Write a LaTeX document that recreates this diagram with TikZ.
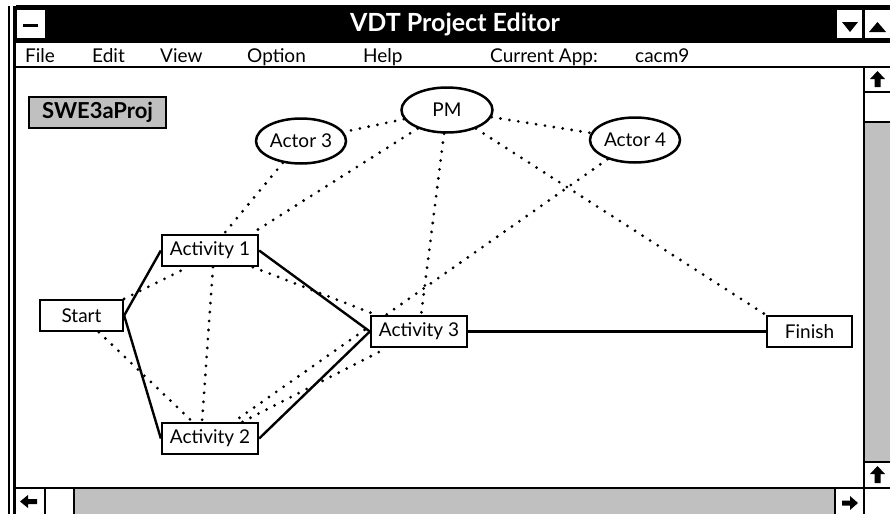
\documentclass[tikz,border=0pt]{standalone}
\usepackage{fontspec}
\setmainfont{Lato}
\usetikzlibrary{shapes.geometric}
\pgfdeclarelayer{links}
\pgfsetlayers{links,main}
\definecolor{panelgray}{RGB}{192,192,192}
\begin{document}
\begin{tikzpicture}[x=1pt,y=-1pt,
  frame/.style={line width=2.8pt},
  actbox/.style={rectangle, draw=black, line width=2.3pt, fill=white, inner sep=0pt,
    minimum height=31pt, font=\fontsize{19}{19}\selectfont},
  actor/.style={ellipse, draw=black, line width=2.5pt, fill=white, inner sep=0pt,
    minimum width=90pt, minimum height=45pt, font=\fontsize{19}{19}\selectfont},
  menuitem/.style={anchor=base west, inner sep=0pt, font=\fontsize{19}{19}\selectfont},
  flow/.style={line width=2.4pt},
  dotlink/.style={line width=3.1pt, line cap=round, dash pattern=on 0pt off 9pt},
  arrowglyph/.style={fill=black, draw=none}]
\useasboundingbox (0,0) rectangle (890,514);

% ---- window frame ----
\fill[black] (16,5) rectangle (890,43);
\draw[line width=2.4pt] (9,6) -- (9,514);
\draw[line width=3pt] (14.7,6) -- (14.7,514);
% system box and title
\fill[white] (17,10) rectangle (45,38);
\draw[line width=3pt] (23,25) -- (38,25);
\node[text=white, font=\bfseries\fontsize{25}{25}\selectfont] (title) at (455,24) {VDT Project Editor};
% window buttons
\fill[white] (837,10) rectangle (862,38);
\fill[white] (865,10) rectangle (890,38);
\fill[black] (842,22) -- (858,22) -- (850,32) -- cycle;
\fill[black] (869,32) -- (886,32) -- (877.5,22) -- cycle;

% ---- menu bar ----
\draw[frame] (16,67) -- (890,67);
\node[menuitem] (mFile) at (25,62) {File};
\node[menuitem] (mEdit) at (92,62) {Edit};
\node[menuitem] (mView) at (160,62) {View};
\node[menuitem] (mOption) at (247,62) {Option};
\node[menuitem] (mHelp) at (363,62) {Help};
\node[menuitem] (mApp) at (490,62) {Current App:};
\node[menuitem] (mAppName) at (635,62) {cacm9};

% ---- vertical scroll bar ----
\fill[panelgray] (865,122) rectangle (890,462);
\draw[frame] (864,67) -- (864,514);
\draw[frame] (864,92) -- (890,92);
\draw[frame] (864,122) -- (890,122);
\draw[frame] (864,462) -- (890,462);
\fill[arrowglyph] (877.5,71) -- (885,79) -- (880.5,79) -- (880.5,87) -- (874.5,87) -- (874.5,79) -- (870,79) -- cycle;
\fill[arrowglyph] (877.5,466) -- (885,474) -- (880.5,474) -- (880.5,483) -- (874.5,483) -- (874.5,474) -- (870,474) -- cycle;

% ---- horizontal scroll bar ----
\fill[panelgray] (74,489) rectangle (835,514);
\draw[frame] (16,488) -- (890,488);
\draw[frame] (45,488) -- (45,514);
\draw[frame] (74,488) -- (74,514);
\draw[frame] (835,488) -- (835,514);
\fill[arrowglyph] (20,501.5) -- (28,495) -- (28,499) -- (37,499) -- (37,504) -- (28,504) -- (28,508) -- cycle;
\fill[arrowglyph] (858,503) -- (850,496) -- (850,500.5) -- (842,500.5) -- (842,505.5) -- (850,505.5) -- (850,510) -- cycle;

% ---- project graph ----
\node[rectangle, draw=black, line width=2.8pt, fill=panelgray, minimum width=137pt,
  minimum height=31pt, inner sep=0pt, font=\bfseries\fontsize{22}{22}\selectfont]
  (proj) at (97.5,112.5) {SWE3aProj};

\node[actor, minimum width=91pt] (pm) at (447,110) {PM};
\node[actor] (a3) at (301,141) {Actor 3};
\node[actor] (a4) at (635,140) {Actor 4};

\node[actbox, minimum width=96pt] (act1) at (210,250.5) {Activity 1};
\node[actbox, minimum width=83pt] (start) at (81.5,315.5) {Start};
\node[actbox, minimum width=96pt] (act3) at (419,331.5) {Activity 3};
\node[actbox, minimum width=96pt] (act2) at (210,438.5) {Activity 2};
\node[actbox, minimum width=85pt] (finish) at (809.5,331.5) {Finish};

\begin{pgfonlayer}{links}
  % responsibility and communication links
  \draw[dotlink] (pm) -- (a3);
  \draw[dotlink] (pm) -- (a4);
  \draw[dotlink] (pm) -- ([xshift=-8pt]act1.north east);
  \draw[dotlink] (pm) -- (act3);
  \draw[dotlink] (pm) -- (finish.north west);
  \draw[dotlink] (a3) -- (act1);
  \draw[dotlink] (a4) -- (act2);
  \draw[dotlink] (start.north east) -- ([xshift=-22pt]act1.south);
  \draw[dotlink] (start) -- (act2);
  \draw[dotlink] ([xshift=3pt]act1.south) -- ([xshift=-8pt]act2.north);
  \draw[dotlink] (act1) -- (act3);
  \draw[dotlink] (act2) -- (act3);
  % precedence links
  \draw[flow] (start.east) -- (act1.west);
  \draw[flow] (start.east) -- (act2.west);
  \draw[flow] (act1.east) -- (act3.west);
  \draw[flow] (act2.east) -- (act3.west);
  \draw[flow] (act3.east) -- (finish.west);
\end{pgfonlayer}
\end{tikzpicture}
\end{document}
